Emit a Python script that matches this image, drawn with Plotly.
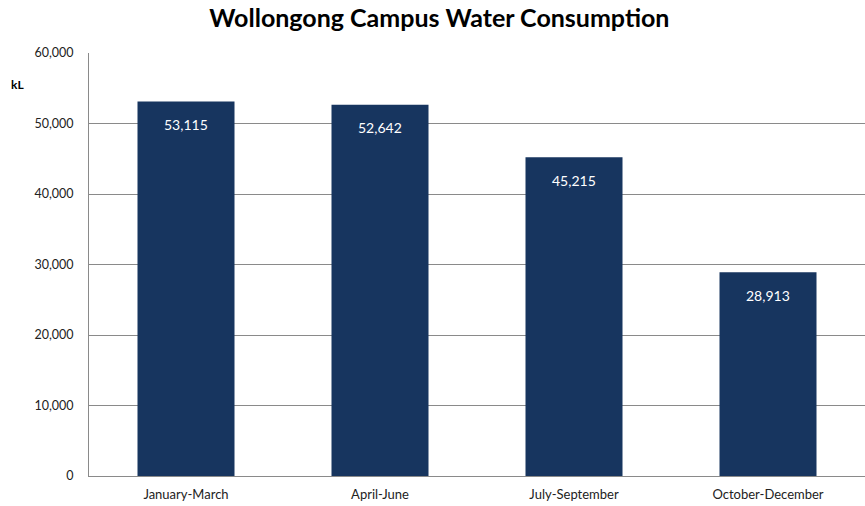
import plotly.graph_objects as go

categories = ["January-March", "April-June", "July-September", "October-December"]
values = [53115, 52642, 45215, 28913]
labels = ["53,115", "52,642", "45,215", "28,913"]
tick_vals = [0, 10000, 20000, 30000, 40000, 50000, 60000]
tick_text = ["0", "10,000", "20,000", "30,000", "40,000", "50,000", "60,000"]

font_family = "Lato, 'Open Sans', sans-serif"

fig = go.Figure(
    go.Bar(
        x=categories,
        y=values,
        marker=dict(color="#17355f", line=dict(width=0)),
        width=0.5,
        hoverinfo="x+y",
    )
)

for c, v, t in zip(categories, values, labels):
    fig.add_annotation(
        x=c, y=v, text=t, showarrow=False, yshift=-23,
        xanchor="center", yanchor="middle",
        font=dict(color="white", size=14, family=font_family),
    )

fig.update_layout(
    width=865,
    height=506,
    margin=dict(l=89, r=0, t=53, b=30),
    paper_bgcolor="white",
    plot_bgcolor="white",
    showlegend=False,
    title=dict(
        text="<b>Wollongong Campus Water Consumption</b>",
        x=0.508,
        xanchor="center",
        y=0.964,
        yanchor="middle",
        font=dict(size=25, color="black", family=font_family),
    ),
    font=dict(family=font_family, color="#222222", size=12),
)

fig.update_xaxes(
    range=[-0.5, 3.5],
    showgrid=False,
    showline=True,
    linecolor="#8a8a8a",
    linewidth=1,
    ticks="",
    tickfont=dict(size=13, color="#222222"),
    ticklabelstandoff=6,
    automargin=False,
)
fig.update_yaxes(
    range=[0, 60000],
    tickvals=tick_vals,
    ticktext=tick_text,
    showgrid=True,
    gridcolor="#8a8a8a",
    gridwidth=1,
    showline=True,
    linecolor="#8a8a8a",
    linewidth=1,
    ticks="",
    zeroline=False,
    tickfont=dict(size=12.5, color="#222222"),
    ticklabelstandoff=12,
    automargin=False,
)

fig.add_annotation(
    text="<b>kL</b>",
    xref="paper",
    yref="paper",
    x=-0.092,
    y=0.925,
    showarrow=False,
    xanchor="center",
    yanchor="middle",
    font=dict(size=12, color="black", family=font_family),
)

fig.write_html(
    "out.html",
    config={"displayModeBar": False},
    post_script="document.body.style.margin='0';document.body.style.padding='0';document.body.style.overflow='hidden';",
)
